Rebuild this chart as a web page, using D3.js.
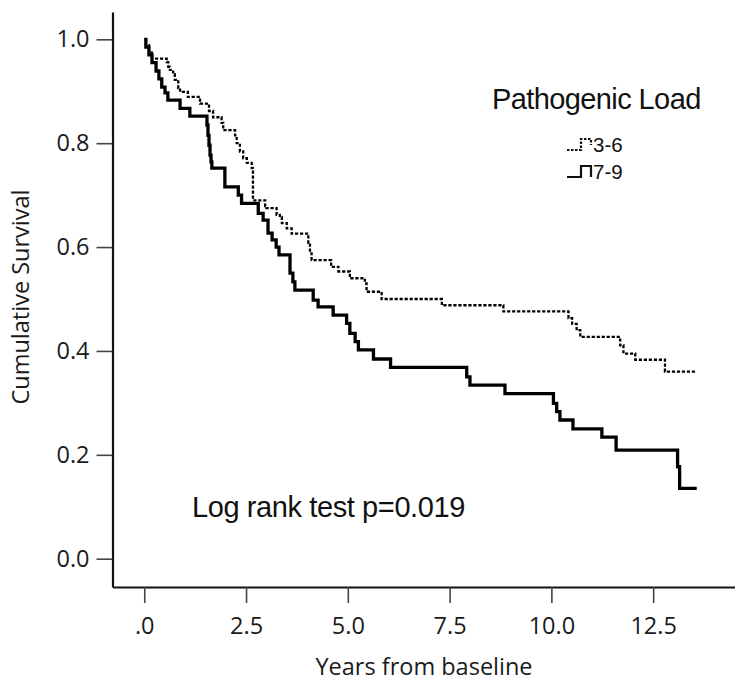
<!DOCTYPE html>
<html>
<head>
<meta charset="utf-8">
<script src="https://cdn.jsdelivr.net/npm/d3@7"></script>
<style>
  body { margin: 0; background: #fff; }
  svg { display: block; }
</style>
</head>
<body>
<svg></svg>
<script>
// values
var groups = ["3-6", "7-9"];
var endTime = 13.57;

var lowTimes = [0.04,0.115,0.19,0.55,0.59,0.63,0.71,0.75,0.835,0.88,1.07,1.37,1.59,1.69,1.90,1.94,
  2.23,2.27,2.35,2.43,2.52,2.64,2.67,2.97,3.0,3.25,3.33,3.38,3.50,3.62,4.03,4.07,4.11,
  4.59,4.77,5.05,5.42,5.46,5.83,7.31,8.82,10.42,10.51,10.62,10.71,11.69,11.77,12.06,12.79];
var lowSurv = [0.989,0.977,0.963,0.956,0.947,0.941,0.933,0.922,0.906,0.899,0.889,0.876,0.862,0.850,0.839,0.825,
  0.815,0.800,0.784,0.771,0.762,0.752,0.690,0.679,0.675,0.662,0.658,0.646,0.636,0.626,0.608,0.588,0.575,
  0.562,0.553,0.540,0.530,0.514,0.500,0.488,0.476,0.463,0.452,0.440,0.427,0.411,0.395,0.383,0.360];

var highTimes = [0.04,0.115,0.19,0.29,0.36,0.43,0.51,0.58,0.88,1.12,1.54,1.565,1.59,1.615,1.64,1.66,
  1.98,2.31,2.39,2.80,2.92,3.04,3.14,3.24,3.31,3.58,3.65,3.70,4.15,4.27,4.64,4.97,5.05,5.18,5.26,5.63,6.05,
  7.92,8.0,8.86,10.05,10.13,10.21,10.53,11.24,11.59,13.1,13.15];
var highSurv = [0.985,0.97,0.955,0.939,0.924,0.908,0.897,0.883,0.867,0.852,0.835,0.815,0.796,0.777,0.764,0.752,
  0.716,0.700,0.684,0.665,0.652,0.627,0.614,0.600,0.585,0.550,0.533,0.517,0.498,0.485,0.469,0.453,0.434,0.418,0.402,0.3845,0.3685,
  0.350,0.334,0.318,0.299,0.283,0.267,0.250,0.234,0.209,0.177,0.1355];

var xTicks = [0, 2.5, 5, 7.5, 10, 12.5];
var xTickLabels = [".0", "2.5", "5.0", "7.5", "10.0", "12.5"];
var yTicks = [0, 0.2, 0.4, 0.6, 0.8, 1.0];
var yTickLabels = ["0.0", "0.2", "0.4", "0.6", "0.8", "1.0"];

var width = 735, height = 684;
var svg = d3.select("svg").attr("width", width).attr("height", height);

var xScale = d3.scaleLinear().domain([-0.78, 14.51]).range([112.5, 735]);
var yScale = d3.scaleLinear().domain([-0.0545, 1.0526]).range([587, 12]);

// axes
var xAxis = d3.axisBottom(xScale)
  .tickValues(xTicks)
  .tickFormat(function(d, i) { return xTickLabels[i]; })
  .tickSizeInner(16).tickSizeOuter(0).tickPadding(14);
var yAxis = d3.axisLeft(yScale)
  .tickValues(yTicks)
  .tickFormat(function(d, i) { return yTickLabels[i]; })
  .tickSizeInner(16).tickSizeOuter(0).tickPadding(7);

var gx = svg.append("g").attr("transform", "translate(0,587)").call(xAxis);
var gy = svg.append("g").attr("transform", "translate(112.5,0)").call(yAxis);

[gx, gy].forEach(function(g) {
  g.select(".domain").attr("stroke", "#111").attr("stroke-width", 2.2);
  g.selectAll(".tick line").attr("stroke", "#444").attr("stroke-width", 1.6);
  g.selectAll(".tick text")
   .attr("font-family", "Open Sans")
   .attr("font-size", 23.5)
   .attr("fill", "#1a1a1a");
});

svg.append("text")
  .attr("x", 424).attr("y", 675)
  .attr("text-anchor", "middle")
  .attr("font-family", "Open Sans").attr("font-size", 23.5).attr("fill", "#1a1a1a")
  .text("Years from baseline");

svg.append("text")
  .attr("transform", "translate(29,297) rotate(-90)")
  .attr("text-anchor", "middle")
  .attr("font-family", "Open Sans").attr("font-size", 23.5).attr("fill", "#1a1a1a")
  .text("Cumulative Survival");

// survival curves
function steps(times, surv) {
  var pts = [[0, 1]];
  times.forEach(function(t, i) { pts.push([t, surv[i]]); });
  pts.push([endTime, surv[surv.length - 1]]);
  return pts;
}

var line = d3.line()
  .x(function(d) { return xScale(d[0]); })
  .y(function(d) { return yScale(d[1]); })
  .curve(d3.curveStepAfter);

svg.append("path")
  .datum(steps(lowTimes, lowSurv))
  .attr("d", line)
  .attr("fill", "none")
  .attr("stroke", "#000")
  .attr("stroke-width", 2.3)
  .attr("stroke-dasharray", "3.2,1.8");

svg.append("path")
  .datum(steps(highTimes, highSurv))
  .attr("d", line)
  .attr("fill", "none")
  .attr("stroke", "#000")
  .attr("stroke-width", 3.3);

// legend
svg.append("text")
  .attr("x", 492).attr("y", 109)
  .attr("font-family", "Liberation Sans").attr("font-size", 29)
  .attr("letter-spacing", -0.6).attr("fill", "#111")
  .text("Pathogenic Load");

var icon = d3.line();
groups.forEach(function(g, i) {
  var base = i == 0 ? 150 : 177;
  var top = base - 11;
  var low = i == 0 ? base - 5 : base;
  svg.append("path")
    .attr("d", icon([[567, base], [581, base], [581, top], [591, top], [591, low]]))
    .attr("fill", "none")
    .attr("stroke", "#111")
    .attr("stroke-width", 2.2)
    .attr("stroke-dasharray", i == 0 ? "2.5,1.5" : null);
  svg.append("text")
    .attr("x", 593).attr("y", base + 2)
    .attr("font-family", "Liberation Sans").attr("font-size", 20.5)
    .attr("fill", "#111")
    .text(g);
});

svg.append("text")
  .attr("x", 192).attr("y", 516.7)
  .attr("font-family", "Liberation Sans").attr("font-size", 29)
  .attr("letter-spacing", -0.4).attr("fill", "#111")
  .text("Log rank test p=0.019");
</script>
</body>
</html>
